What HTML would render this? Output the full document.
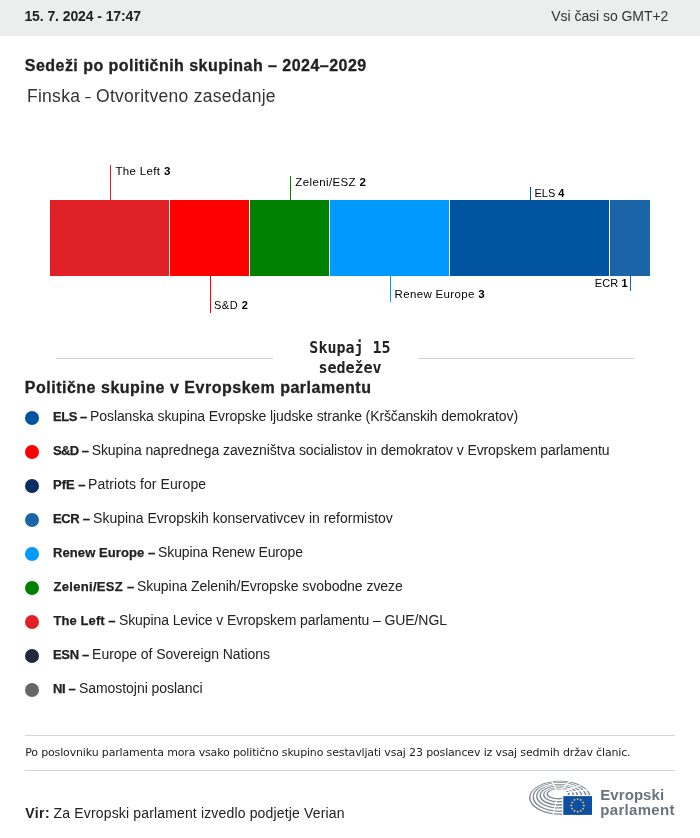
<!DOCTYPE html>
<html lang="sl">
<head>
<meta charset="utf-8">
<title>Sedeži po političnih skupinah – 2024–2029</title>
<style>
html,body{margin:0;padding:0;background:#fff;}
body{width:700px;height:838px;position:relative;overflow:hidden;font-family:"Liberation Sans",sans-serif;color:#222;}
.t{position:absolute;white-space:nowrap;line-height:1;margin:0;padding:0;}
#hdr{position:absolute;left:0;top:0;width:700px;height:36px;background:#eceded;}
.hr{position:absolute;left:25px;width:650px;height:1px;background:#d3d6d9;}
.dot{position:absolute;left:25px;width:14px;height:14px;border-radius:50%;}
.ln{position:absolute;width:1px;}
.sg{position:absolute;top:200px;height:76px;}
</style>
</head>
<body>
<div id="hdr"></div>
<div class="t" id="date" style="left:24.4px;top:9px;font-size:14px;font-weight:700;letter-spacing:-0.089px;color:#222;">15. 7. 2024 - 17:47</div>
<div class="t" id="gmt" style="left:551.3px;top:9px;font-size:14px;letter-spacing:-0.05px;color:#333;">Vsi časi so GMT+2</div>
<div class="t" id="title" style="left:24.8px;top:58px;font-size:16px;font-weight:700;letter-spacing:0.465px;color:#222;-webkit-text-stroke:0.3px #222;">Sedeži po političnih skupinah – 2024–2029</div>
<div class="t" id="sub" style="left:27.0px;top:88px;font-size:17.5px;letter-spacing:0.269px;color:#333;">Finska <span style="display:inline-block;transform:scaleX(.55);margin:0 -2.2px">–</span> Otvoritveno zasedanje</div>
<!-- bar -->
<div class="sg" style="left:50px;width:120px;background:#e02227;"></div>
<div class="sg" style="left:170px;width:80px;background:#ff0000;"></div>
<div class="sg" style="left:250px;width:80px;background:#008000;"></div>
<div class="sg" style="left:330px;width:120px;background:#0099ff;"></div>
<div class="sg" style="left:450px;width:160px;background:#0054a0;"></div>
<div class="sg" style="left:610px;width:40px;background:#1b65a7;"></div>
<div class="ln" style="left:169px;top:200px;height:76px;background:#fff;"></div>
<div class="ln" style="left:249px;top:200px;height:76px;background:#fff;"></div>
<div class="ln" style="left:329px;top:200px;height:76px;background:#fff;"></div>
<div class="ln" style="left:449px;top:200px;height:76px;background:#fff;"></div>
<div class="ln" style="left:609px;top:200px;height:76px;background:#fff;"></div>
<div class="ln" style="left:110px;top:165px;height:35px;background:#e02227;"></div>
<div class="ln" style="left:210px;top:276px;height:37px;background:#ff0000;"></div>
<div class="ln" style="left:290px;top:176px;height:24px;background:#008000;"></div>
<div class="ln" style="left:390px;top:276px;height:26px;background:#0099ff;"></div>
<div class="ln" style="left:530px;top:187px;height:13px;background:#0054a0;"></div>
<div class="ln" style="left:630px;top:276px;height:15px;background:#1b65a7;"></div>
<div class="t" id="l1" style="left:115.5px;top:166px;font-size:11.5px;letter-spacing:0.334px;color:#000;">The Left <b>3</b></div>
<div class="t" id="l2" style="left:214.0px;top:300px;font-size:11px;letter-spacing:0.5px;color:#000;">S&amp;D <b>2</b></div>
<div class="t" id="l3" style="left:295.25px;top:177px;font-size:11.5px;letter-spacing:0.386px;color:#000;">Zeleni/ESZ <b>2</b></div>
<div class="t" id="l4" style="left:394.5px;top:289px;font-size:11.5px;letter-spacing:0.346px;color:#000;">Renew Europe <b>3</b></div>
<div class="t" id="l5" style="left:534.5px;top:188px;font-size:11px;letter-spacing:0.0px;color:#000;">ELS <b>4</b></div>
<div class="t" id="l6" style="left:594.75px;top:278px;font-size:11px;letter-spacing:0.126px;color:#000;">ECR <b>1</b></div>
<!-- total -->
<div class="ln" style="left:56px;top:358px;width:217px;height:1px;background:#cfcfcf;"></div>
<div class="ln" style="left:418px;top:358px;width:216px;height:1px;background:#cfcfcf;"></div>
<div class="t" id="tot" style="left:300px;top:339px;width:100px;text-align:center;white-space:normal;font-family:'DejaVu Sans Mono','Liberation Mono',monospace;font-weight:700;font-size:15px;line-height:19.5px;color:#222;">Skupaj 15 sedežev</div>
<!-- legend -->
<div class="t" id="lh" style="left:24.75px;top:380px;font-size:16px;font-weight:700;letter-spacing:0.51px;color:#222;-webkit-text-stroke:0.3px #222;">Politične skupine v Evropskem parlamentu</div>
<div class="dot" style="top:410.5px;background:#0054a0;"></div>
<div class="t" id="g1b" style="left:53.0px;top:410px;font-size:13px;font-weight:700;letter-spacing:-0.45px;color:#222;-webkit-text-stroke:0.25px #222;">ELS –</div>
<div class="t" id="g1" style="left:90.1px;top:409px;font-size:14px;letter-spacing:-0.108px;color:#222;">Poslanska skupina Evropske ljudske stranke (Krščanskih demokratov)</div>
<div class="dot" style="top:444.5px;background:#ff0000;"></div>
<div class="t" id="g2b" style="left:53.0px;top:444px;font-size:13px;font-weight:700;letter-spacing:-0.6px;color:#222;-webkit-text-stroke:0.25px #222;">S&amp;D –</div>
<div class="t" id="g2" style="left:91.7px;top:443px;font-size:14px;letter-spacing:-0.095px;color:#222;">Skupina naprednega zavezništva socialistov in demokratov v Evropskem parlamentu</div>
<div class="dot" style="top:478.5px;background:#0a2d63;"></div>
<div class="t" id="g3b" style="left:53.0px;top:478px;font-size:13px;font-weight:700;letter-spacing:0.0px;color:#222;-webkit-text-stroke:0.25px #222;">PfE –</div>
<div class="t" id="g3" style="left:88.1px;top:477px;font-size:14px;letter-spacing:0.067px;color:#222;">Patriots for Europe</div>
<div class="dot" style="top:512.5px;background:#1b65a7;"></div>
<div class="t" id="g4b" style="left:53.0px;top:512px;font-size:13px;font-weight:700;letter-spacing:-0.35px;color:#222;-webkit-text-stroke:0.25px #222;">ECR –</div>
<div class="t" id="g4" style="left:93.1px;top:511px;font-size:14px;letter-spacing:-0.014px;color:#222;">Skupina Evropskih konservativcev in reformistov</div>
<div class="dot" style="top:546.5px;background:#0099ff;"></div>
<div class="t" id="g5b" style="left:53.0px;top:546px;font-size:13px;font-weight:700;letter-spacing:0.092px;color:#222;-webkit-text-stroke:0.25px #222;">Renew Europe –</div>
<div class="t" id="g5" style="left:158.1px;top:545px;font-size:14px;letter-spacing:-0.116px;color:#222;">Skupina Renew Europe</div>
<div class="dot" style="top:580.5px;background:#008000;"></div>
<div class="t" id="g6b" style="left:53.4px;top:580px;font-size:13px;font-weight:700;letter-spacing:0.327px;color:#222;-webkit-text-stroke:0.25px #222;">Zeleni/ESZ –</div>
<div class="t" id="g6" style="left:136.9px;top:579px;font-size:14px;letter-spacing:-0.047px;color:#222;">Skupina Zelenih/Evropske svobodne zveze</div>
<div class="dot" style="top:614.5px;background:#e02227;"></div>
<div class="t" id="g7b" style="left:53.6px;top:614px;font-size:13px;font-weight:700;letter-spacing:0.067px;color:#222;-webkit-text-stroke:0.25px #222;">The Left –</div>
<div class="t" id="g7" style="left:118.9px;top:613px;font-size:14px;letter-spacing:-0.091px;color:#222;">Skupina Levice v Evropskem parlamentu – GUE/NGL</div>
<div class="dot" style="top:648.5px;background:#1f2a3a;"></div>
<div class="t" id="g8b" style="left:53.0px;top:648px;font-size:13px;font-weight:700;letter-spacing:-0.35px;color:#222;-webkit-text-stroke:0.25px #222;">ESN –</div>
<div class="t" id="g8" style="left:92.1px;top:647px;font-size:14px;letter-spacing:-0.042px;color:#222;">Europe of Sovereign Nations</div>
<div class="dot" style="top:682.5px;background:#666666;"></div>
<div class="t" id="g9b" style="left:53.0px;top:682px;font-size:13px;font-weight:700;letter-spacing:-0.4px;color:#222;-webkit-text-stroke:0.25px #222;">NI –</div>
<div class="t" id="g9" style="left:78.9px;top:681px;font-size:14px;letter-spacing:-0.044px;color:#222;">Samostojni poslanci</div>
<!-- footer -->
<div class="hr" style="top:735px;"></div>
<div class="t" id="fn" style="left:25.2px;top:747px;font-size:11px;font-family:'DejaVu Sans','Liberation Sans',sans-serif;letter-spacing:-0.151px;color:#222;">Po poslovniku parlamenta mora vsako politično skupino sestavljati vsaj 23 poslancev iz vsaj sedmih držav članic.</div>
<div class="hr" style="top:770px;"></div>
<div class="t" id="virb" style="left:25.3px;top:806px;font-size:14px;font-weight:700;letter-spacing:0.4px;color:#222;">Vir:</div>
<div class="t" id="vir" style="left:53.6px;top:806px;font-size:14px;letter-spacing:0.155px;color:#222;">Za Evropski parlament izvedlo podjetje Verian</div>
<svg id="logo" style="position:absolute;left:525px;top:775px;" width="75" height="45" viewBox="525 775 75 45">
<path d="M529.00 797.80A31.00 17.00 0 1 0 591.00 797.80A31.00 17.00 0 1 0 529.00 797.80ZM530.47 797.49A29.37 16.01 0 1 0 589.22 797.49A29.37 16.01 0 1 0 530.47 797.49ZM532.51 797.05A27.13 14.65 0 1 0 586.76 797.05A27.13 14.65 0 1 0 532.51 797.05ZM533.98 796.74A25.50 13.66 0 1 0 584.97 796.74A25.50 13.66 0 1 0 533.98 796.74ZM536.01 796.31A23.25 12.30 0 1 0 582.51 796.31A23.25 12.30 0 1 0 536.01 796.31ZM537.48 795.99A21.62 11.31 0 1 0 580.73 795.99A21.62 11.31 0 1 0 537.48 795.99ZM539.52 795.56A19.38 9.94 0 1 0 578.27 795.56A19.38 9.94 0 1 0 539.52 795.56ZM540.99 795.24A17.75 8.95 0 1 0 576.49 795.24A17.75 8.95 0 1 0 540.99 795.24ZM543.02 794.81A15.50 7.59 0 1 0 574.03 794.81A15.50 7.59 0 1 0 543.02 794.81ZM544.49 794.50A13.87 6.60 0 1 0 572.24 794.50A13.87 6.60 0 1 0 544.49 794.50ZM546.53 794.06A11.63 5.24 0 1 0 569.78 794.06A11.63 5.24 0 1 0 546.53 794.06ZM548.00 793.75A10.00 4.25 0 1 0 568.00 793.75A10.00 4.25 0 1 0 548.00 793.75Z" fill="#848c94" fill-rule="evenodd"/>
<line x1="556.5" y1="790.6" x2="550.9" y2="779.1" stroke="#fff" stroke-width="1.1"/>
<line x1="560.9" y1="790.7" x2="571.2" y2="779.7" stroke="#fff" stroke-width="1.1"/>
<line x1="563.5" y1="791.6" x2="583.3" y2="783.7" stroke="#fff" stroke-width="1.1"/>
<line x1="565.4" y1="792.8" x2="591.9" y2="789.4" stroke="#fff" stroke-width="1.1"/>
<line x1="556.8" y1="799.1" x2="552.2" y2="818.2" stroke="#fff" stroke-width="1.1"/>
<rect x="562.3" y="795.1" width="40" height="26" fill="#fff"/>
<rect x="563.3" y="796.1" width="28.7" height="18.8" fill="#0f4fa3"/>
<polygon points="577.60,797.80 577.93,798.75 578.93,798.77 578.13,799.37 578.42,800.33 577.60,799.76 576.78,800.33 577.07,799.37 576.27,798.77 577.27,798.75" fill="#ffe04a"/>
<polygon points="580.75,798.64 581.08,799.59 582.08,799.61 581.28,800.22 581.57,801.18 580.75,800.60 579.93,801.18 580.22,800.22 579.42,799.61 580.42,799.59" fill="#ffe04a"/>
<polygon points="583.06,800.95 583.39,801.90 584.39,801.92 583.59,802.52 583.88,803.48 583.06,802.91 582.23,803.48 582.52,802.52 581.72,801.92 582.73,801.90" fill="#ffe04a"/>
<polygon points="583.90,804.10 584.23,805.05 585.23,805.07 584.43,805.67 584.72,806.63 583.90,806.06 583.08,806.63 583.37,805.67 582.57,805.07 583.57,805.05" fill="#ffe04a"/>
<polygon points="583.06,807.25 583.39,808.20 584.39,808.22 583.59,808.82 583.88,809.78 583.06,809.21 582.23,809.78 582.52,808.82 581.72,808.22 582.73,808.20" fill="#ffe04a"/>
<polygon points="580.75,809.56 581.08,810.50 582.08,810.52 581.28,811.13 581.57,812.09 580.75,811.52 579.93,812.09 580.22,811.13 579.42,810.52 580.42,810.50" fill="#ffe04a"/>
<polygon points="577.60,810.40 577.93,811.35 578.93,811.37 578.13,811.97 578.42,812.93 577.60,812.36 576.78,812.93 577.07,811.97 576.27,811.37 577.27,811.35" fill="#ffe04a"/>
<polygon points="574.45,809.56 574.78,810.50 575.78,810.52 574.98,811.13 575.27,812.09 574.45,811.52 573.63,812.09 573.92,811.13 573.12,810.52 574.12,810.50" fill="#ffe04a"/>
<polygon points="572.14,807.25 572.47,808.20 573.48,808.22 572.68,808.82 572.97,809.78 572.14,809.21 571.32,809.78 571.61,808.82 570.81,808.22 571.81,808.20" fill="#ffe04a"/>
<polygon points="571.30,804.10 571.63,805.05 572.63,805.07 571.83,805.67 572.12,806.63 571.30,806.06 570.48,806.63 570.77,805.67 569.97,805.07 570.97,805.05" fill="#ffe04a"/>
<polygon points="572.14,800.95 572.47,801.90 573.48,801.92 572.68,802.52 572.97,803.48 572.14,802.91 571.32,803.48 571.61,802.52 570.81,801.92 571.81,801.90" fill="#ffe04a"/>
<polygon points="574.45,798.64 574.78,799.59 575.78,799.61 574.98,800.22 575.27,801.18 574.45,800.60 573.63,801.18 573.92,800.22 573.12,799.61 574.12,799.59" fill="#ffe04a"/>
</svg>
<div class="t" id="lt1" style="left:600.25px;top:787px;font-size:15px;font-weight:700;letter-spacing:0.071px;color:#6a747e;">Evropski</div>
<div class="t" id="lt2" style="left:600.25px;top:802px;font-size:15px;font-weight:700;letter-spacing:0.312px;color:#6a747e;">parlament</div>
</body>
</html>
